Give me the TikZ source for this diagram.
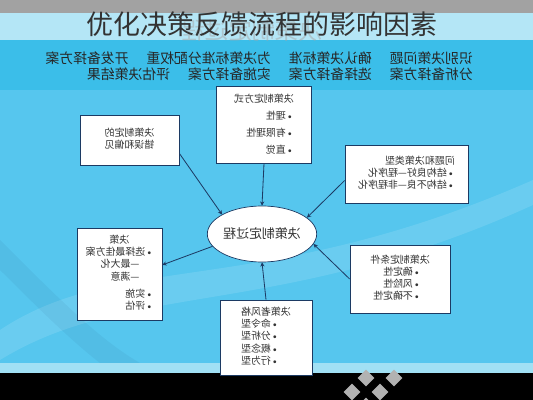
\documentclass[tikz,border=0pt]{standalone}
\usepackage{fontspec}
\usepackage{graphicx}
\newfontfamily\cjk{Noto Sans CJK SC}
\usetikzlibrary{positioning,shapes.geometric,arrows.meta}
\definecolor{skyblue}{HTML}{56C6EE}
\definecolor{bandblue}{HTML}{3BBEE9}
\definecolor{paleband}{HTML}{B4E6F6}
\definecolor{topgray}{HTML}{A2A2A2}
\definecolor{navy}{HTML}{1C3A63}
\definecolor{inkgray}{HTML}{333333}
\newcommand{\flip}[1]{\reflectbox{#1}}
\newcommand{\bul}{{\normalfont\textbullet}}

\begin{document}
\begin{tikzpicture}[
  x=0.03cm, y=-0.03cm,
  box/.style={
    shape=rectangle,
    draw=navy,
    fill=white,
    line width=0.6pt,
    inner sep=0pt,
    text=inkgray,
    font=\cjk\fontsize{8.5}{10.5}\selectfont,
  },
  link/.style={navy, line width=0.7pt, -{Stealth[length=3.6pt,width=3.6pt]}},
  tile/.style={fill=gray!60, rotate=45, minimum size=0.36cm, inner sep=0pt},
  ]
  \useasboundingbox (0,0) rectangle (533,400);
  % background bands
  \fill[skyblue] (0,0) rectangle (533,400);
  \fill[white, opacity=0.12] (0,330) .. controls (120,250) and (260,300) .. (533,180)
    -- (533,205) .. controls (280,320) and (130,280) .. (0,360) -- cycle;
  \fill[navy, opacity=0.06] (0,240) .. controls (60,300) and (100,340) .. (140,363)
    -- (100,363) .. controls (70,340) and (30,300) .. (0,270) -- cycle;
  \fill[topgray] (0,0) rectangle (533,13);
  \fill[paleband] (0,13) rectangle (533,40);
  \fill[bandblue] (0,40) rectangle (533,90);
  \fill[paleband!80!skyblue] (0,363) rectangle (533,373);
  \fill[black] (0,373) rectangle (533,400);
  \foreach \tx/\ty in {352/392, 366/378, 380/392, 366/406, 394/378}
    \node[tile] at (\tx,\ty) {};

  % title
  \node[text=gray!70, opacity=0.5, font=\cjk\fontsize{20}{20}\selectfont]
    (ghost) at (252,31) {\flip{决策制定过程}};
  \node[text=inkgray, font=\cjk\fontsize{23}{23}\selectfont]
    (title) at (262,24) {优化决策反馈流程的影响因素};

  % steps of the process
  \node[anchor=east, inner sep=0pt, text=black!85, font=\cjk\fontsize{11.8}{13.6}\selectfont]
    (steps) at (473,68) {\flip{\begin{tabular}{@{}l@{}}
      识别决策问题\hspace{1.3em}确认决策标准\hspace{1.3em}为决策标准分配权重\hspace{1.3em}开发备择方案\\
      分析备择方案\hspace{1.3em}选择备择方案\hspace{1.3em}实施备择方案\hspace{1.3em}评估决策结果
    \end{tabular}}};

  % boxes
  \node[box, minimum width=2.85cm, minimum height=2.31cm, font=\cjk\fontsize{8.5}{14.5}\selectfont]
    (fangshi) at (264,124.5) {\flip{\begin{tabular}{@{}l@{}}
      决策制定方式\\ \bul{}理性\\ \bul{}有限理性\\ \bul{}直觉
    \end{tabular}}};
  \node[box, minimum width=2.97cm, minimum height=1.5cm]
    (pianjian) at (129.5,140) {\flip{\begin{tabular}{@{}l@{}}
      决策制定的\\ 错误和偏见
    \end{tabular}}};
  \node[box, minimum width=3.69cm, minimum height=1.74cm]
    (leixing) at (406.5,174) {\flip{\begin{tabular}{@{}l@{}}
      问题和决策类型\\ \bul{}结构良好—程序化\\ \bul{}结构不良—非程序化
    \end{tabular}}};
  \node[box, shape=ellipse, minimum width=2.94cm, minimum height=1.68cm,
    font=\cjk\fontsize{11}{13}\selectfont]
    (guocheng) at (262,234) {\flip{决策制定过程}};
  \node[box, minimum width=2.55cm, minimum height=2.76cm]
    (juece) at (119.5,274) {\flip{\begin{tabular}{@{}l@{}}
      \hspace{2.4em}决策\\ \bul{}选择最佳方案\\ \hspace{1.4em}—最大化\\ \hspace{1.4em}—满意\\[4pt] \bul{}实施\\ \bul{}评估
    \end{tabular}}};
  \node[box, minimum width=3cm, minimum height=2.04cm]
    (tiaojian) at (400,279) {\flip{\begin{tabular}{@{}l@{}}
      决策制定条件\\ \hspace{0.9em}\bul{}确定性\\ \hspace{0.9em}\bul{}风险性\\ \hspace{0.9em}\bul{}不确定性
    \end{tabular}}};
  \node[box, minimum width=2.76cm, minimum height=2.25cm]
    (fengge) at (266,337.5) {\flip{\begin{tabular}{@{}l@{}}
      决策者风格\\ \hspace{1.2em}\bul{}命令型\\ \hspace{1.2em}\bul{}分析型\\ \hspace{1.2em}\bul{}概念型\\ \hspace{1.2em}\bul{}行为型
    \end{tabular}}};

  % connectors
  \draw[link] (fangshi.south) -- (guocheng.north);
  \draw[link] (pianjian.-15) -- (guocheng.154);
  \draw[link] (leixing.186) -- (guocheng.20);
  \draw[link] (guocheng.194) -- (juece.12);
  \draw[link] (tiaojian.west) -- (guocheng.349);
  \draw[link] (fengge.north) -- (guocheng.south);
\end{tikzpicture}
\end{document}
